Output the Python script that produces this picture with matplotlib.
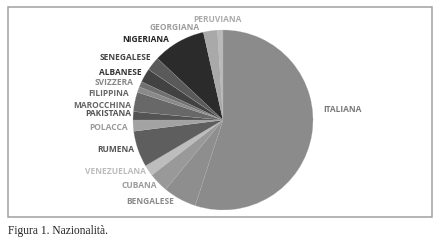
import matplotlib
matplotlib.use("Agg")
import matplotlib.pyplot as plt
from matplotlib.patches import Rectangle

# =========================
# Data
# =========================
nationalities = ["ITALIANA", "BENGALESE", "CUBANA", "VENEZUELANA", "RUMENA",
                 "POLACCA", "PAKISTANA", "MAROCCHINA", "FILIPPINA", "SVIZZERA",
                 "ALBANESE", "SENEGALESE", "NIGERIANA", "GEORGIANA", "PERUVIANA"]
shares = [55.0, 6.0, 3.5, 2.0, 6.5, 2.0, 1.5, 3.5, 1.0, 1.0, 2.5, 2.5, 9.5, 2.5, 1.0]

# =========================
# Styles
# =========================
slice_colors = ["#8b8b8b", "#8e8e8e", "#999999", "#bdbdbd", "#5e5e5e",
                "#a3a3a3", "#545454", "#686868", "#8a8a8a", "#707070",
                "#424242", "#5a5a5a", "#2b2b2b", "#a9a9a9", "#bababa"]
label_colors = ["#7a7a7a", "#8a8a8a", "#9a9a9a", "#bcbcbc", "#555555",
                "#9a9a9a", "#555555", "#666666", "#666666", "#888888",
                "#333333", "#444444", "#222222", "#9c9c9c", "#ababab"]
# label anchors in pixels (x, y from top) and alignment
label_px = [(323, 109), (174, 202), (157, 185), (146, 171), (134, 150),
            (128, 128), (131, 113), (131, 105), (129, 93), (133, 82),
            (142, 72), (151, 57), (169, 39), (200, 27), (217, 19)]
label_ha = ["left"] + ["right"] * 13 + ["center"]

W, H = 443, 243
cx, cy, r = 223, 120, 90

fig = plt.figure(figsize=(W / 100, H / 100), dpi=100)
fig.patch.set_facecolor("white")

# frame around the chart
fig.add_artist(Rectangle((8 / W, 1 - 217 / H), 424 / W, 210 / H,
                         transform=fig.transFigure, fill=False,
                         edgecolor="#a0a0a0", linewidth=1.1))

ax = fig.add_axes([(cx - r) / W, 1 - (cy + r) / H, 2 * r / W, 2 * r / H])
ax.axis("off")

wedges, texts = ax.pie(shares, labels=nationalities, colors=slice_colors,
                       startangle=90, counterclock=False, radius=1,
                       wedgeprops=dict(edgecolor="#b0b0b0", linewidth=0.15),
                       textprops=dict(fontsize=6, fontweight="bold",
                                      family="Open Sans"))
ax.set_xlim(-1, 1)
ax.set_ylim(-1, 1)

for t, (px, py), ha, col in zip(texts, label_px, label_ha, label_colors):
    t.set_position(((px - cx) / r, (cy - py) / r))
    t.set_ha(ha)
    t.set_va("center")
    t.set_color(col)

fig.text(8 / W, 1 - 231 / H, "Figura 1. Nazionalità.", fontsize=8.3,
         family="Liberation Serif", ha="left", va="center", color="#222222")

fig.savefig("out.png", dpi=100)
